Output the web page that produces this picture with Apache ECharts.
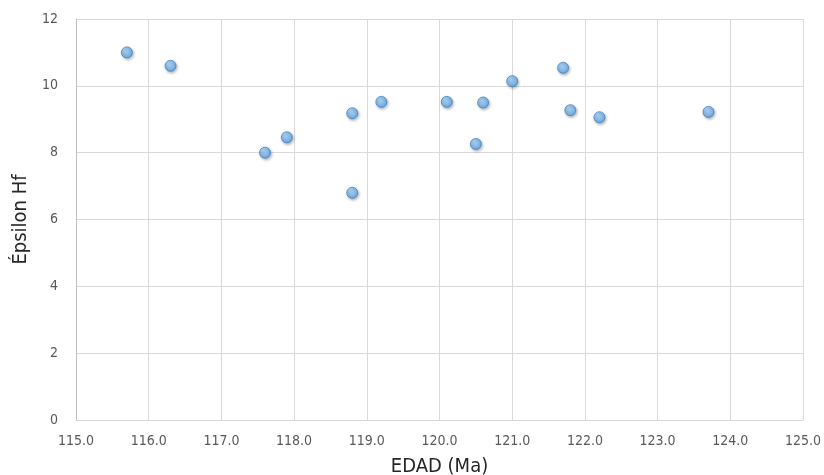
<!DOCTYPE html>
<html><head><meta charset="utf-8">
<script src="https://cdn.jsdelivr.net/npm/echarts@6/dist/echarts.min.js"></script>
<style>html,body{margin:0;padding:0;background:#fff}#c{width:824px;height:475px}</style>
</head><body><div id="c"></div>
<script>
const edad = [115.7, 116.3, 117.6, 117.9, 118.8, 118.8, 119.2, 120.1, 120.6, 120.5, 121.0, 121.7, 121.8, 122.2, 123.7];
const epsilonHf = [11.0, 10.6, 8.0, 8.46, 9.18, 6.8, 9.52, 9.52, 9.5, 8.26, 10.14, 10.54, 9.27, 9.06, 9.22];
const xTitle = 'EDAD (Ma)';
const yTitle = 'Épsilon Hf';

const font = "'Liberation Sans Narrow','DejaVu Sans Condensed','Open Sans',sans-serif";
const chart = echarts.init(document.getElementById('c'));
chart.setOption({
  animation: false,
  grid: {left: 76, right: 21, top: 19, bottom: 55, containLabel: false, outerBoundsMode: 'none'},
  xAxis: {
    type: 'value', min: 115, max: 125, interval: 1,
    name: xTitle, nameLocation: 'middle', nameGap: 37,
    nameTextStyle: {fontSize: 20, color: '#262626', fontFamily: font},
    axisLine: {lineStyle: {color: '#d9d9d9'}},
    axisTick: {show: false},
    axisLabel: {color: '#595959', fontSize: 14, fontFamily: font, margin: 14, formatter: v => v.toFixed(1)},
    splitLine: {show: true, lineStyle: {color: '#d9d9d9'}}
  },
  yAxis: {
    type: 'value', min: 0, max: 12, interval: 2,
    name: yTitle, nameLocation: 'middle', nameGap: 43,
    nameTextStyle: {fontSize: 20, color: '#262626', fontFamily: font},
    axisLine: {show: true, lineStyle: {color: '#bfbfbf'}},
    axisTick: {show: false},
    axisLabel: {color: '#595959', fontSize: 14, fontFamily: font, margin: 18},
    splitLine: {show: true, lineStyle: {color: '#d9d9d9'}}
  },
  series: [{
    type: 'scatter',
    data: edad.map((x, i) => [x, epsilonHf[i]]),
    symbolSize: 11,
    itemStyle: {
      color: {type: 'radial', x: 0.4, y: 0.35, r: 0.7, colorStops: [{offset: 0, color: '#a6d6ff'}, {offset: 1, color: '#559fe6'}]},
      borderColor: '#3f83c6', borderWidth: 1,
      shadowColor: 'rgba(0,0,0,0.35)', shadowBlur: 3, shadowOffsetX: 1, shadowOffsetY: 1.5
    }
  }]
});
</script></body></html>
